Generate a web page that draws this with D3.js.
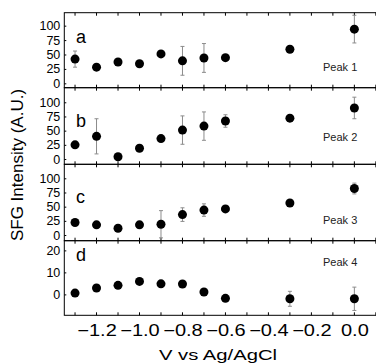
<!DOCTYPE html>
<html>
<head>
<meta charset="utf-8">
<script src="https://cdn.jsdelivr.net/npm/d3@7"></script>
<style>
  body { margin: 0; background: #fff; }
  svg { display: block; font-family: Arial, "Liberation Sans", sans-serif; }
</style>
</head>
<body>
<svg id="chart"></svg>
<script>
// Data
const voltages = [-1.3, -1.2, -1.1, -1.0, -0.9, -0.8, -0.7, -0.6, -0.3, 0.0];

const peak1 = [42, 28, 37, 34, 51, 39, 44, 44.5, 59, 94];
const peak1Err = [14, 0, 0, 0, 0, 25, 25, 0, 0, 24];

const peak2 = [25, 40, 4, 19, 36, 51, 58, 67, 72, 90];
const peak2Err = [0, 31, 0, 0, 0, 25, 25, 11, 4, 19];

const peak3 = [22, 18, 12, 18, 19, 36, 44, 46, 56.5, 82];
const peak3Err = [0, 0, 0, 0, 24, 12, 11, 0, 0, 9.5];

const peak4 = [0.6, 2.9, 4.1, 5.9, 4.8, 4.7, 1.1, -1.8, -2, -2];
const peak4Err = [0, 0, 0, 0, 1.5, 0, 0, 0, 3.4, 5.3];

const panelLetters = ['a', 'b', 'c', 'd'];
const peakNames = ['Peak 1', 'Peak 2', 'Peak 3', 'Peak 4'];
const yTicks = [[0, 25, 50, 75, 100], [0, 25, 50, 75, 100], [0, 25, 50, 75, 100], [0, 10, 20]];
const xTickLabels = [-1.2, -1.0, -0.8, -0.6, -0.4, -0.2, 0.0];

const WIDTH = 376;
const HEIGHT = 364;

// Panel layout (pixels) and y domains
const panels = [
    { top: 12.7, bottom: 87.7, domain: [-7.6, 122.5], letterAt: 70, peakAt: 21, values: peak1, errs: peak1Err },
    { top: 87.7, bottom: 164.3, domain: [-9.3, 125.7], letterAt: 56, peakAt: 32, values: peak2, errs: peak2Err },
    { top: 164.3, bottom: 240.7, domain: [-10, 124.7], letterAt: 56, peakAt: 19, values: peak3, errs: peak3Err },
    { top: 240.7, bottom: 315.3, domain: [-9.5, 24.4], letterAt: 15, peakAt: 13, values: peak4, errs: peak4Err }
];

const left = 64.3;

let svg = d3.select('#chart')
    .attr('width', WIDTH)
    .attr('height', HEIGHT);

let xScale = d3.scaleLinear()
    .domain([-1.35, 0.11])
    .range([left, 378]);

const minorTicks = d3.range(-13, 2).map(d => d / 10);

panels.forEach((p, k) => {
    let yScale = d3.scaleLinear()
        .domain(p.domain)
        .range([p.bottom, p.top]);

    let g = svg.append('g').attr('class', 'panel');

    // frame
    g.append('rect')
        .attr('x', left)
        .attr('y', p.top)
        .attr('width', 400)
        .attr('height', p.bottom - p.top)
        .attr('fill', 'none')
        .attr('stroke', '#000')
        .attr('stroke-width', 1);

    // x ticks on top and bottom, pointing inward
    g.selectAll('.tick-top')
        .data(minorTicks)
        .enter().append('line')
        .attr('x1', d => xScale(d)).attr('x2', d => xScale(d))
        .attr('y1', p.top).attr('y2', p.top + 3)
        .attr('stroke', '#000');
    g.selectAll('.tick-bot')
        .data(minorTicks)
        .enter().append('line')
        .attr('x1', d => xScale(d)).attr('x2', d => xScale(d))
        .attr('y1', p.bottom).attr('y2', p.bottom - 3)
        .attr('stroke', '#000');

    // y axis
    let yAxis = d3.axisLeft(yScale)
        .tickValues(yTicks[k])
        .tickSizeInner(-2)
        .tickSizeOuter(0)
        .tickPadding(4);
    let ya = g.append('g')
        .attr('transform', `translate(${left}, 0)`)
        .call(yAxis);
    ya.select('.domain').remove();
    ya.selectAll('text')
        .style('font-size', '12.5px')
        .attr('fill', '#000');

    // error bars
    let pts = voltages.map((v, i) => ({ v: v, y: p.values[i], e: p.errs[i] }));
    let eb = g.selectAll('.err')
        .data(pts.filter(d => d.e > 0))
        .enter().append('g')
        .attr('stroke', '#8c8c8c')
        .attr('stroke-width', 1);
    eb.append('line')
        .attr('x1', d => xScale(d.v)).attr('x2', d => xScale(d.v))
        .attr('y1', d => yScale(d.y - d.e)).attr('y2', d => yScale(d.y + d.e));
    eb.append('line')
        .attr('x1', d => xScale(d.v) - 2).attr('x2', d => xScale(d.v) + 2)
        .attr('y1', d => yScale(d.y + d.e)).attr('y2', d => yScale(d.y + d.e));
    eb.append('line')
        .attr('x1', d => xScale(d.v) - 2).attr('x2', d => xScale(d.v) + 2)
        .attr('y1', d => yScale(d.y - d.e)).attr('y2', d => yScale(d.y - d.e));

    // points
    g.selectAll('.pt')
        .data(pts)
        .enter().append('circle')
        .attr('cx', d => xScale(d.v))
        .attr('cy', d => yScale(d.y))
        .attr('r', 4.5)
        .attr('fill', '#000');

    // panel letter
    g.append('text')
        .attr('x', 76)
        .attr('y', yScale(p.letterAt))
        .style('font-size', '18px')
        .text(panelLetters[k]);

    // peak label
    g.append('text')
        .attr('x', 323)
        .attr('y', yScale(p.peakAt))
        .style('font-size', '11px')
        .attr('fill', '#222')
        .text(peakNames[k]);
});

// x tick labels under the bottom panel
let xAxis = d3.axisBottom(xScale)
    .tickValues(xTickLabels)
    .tickSize(0)
    .tickPadding(9)
    .tickFormat(d3.format('.1f'));
let xa = svg.append('g')
    .attr('transform', `translate(0, ${panels[3].bottom})`)
    .call(xAxis);
xa.select('.domain').remove();
xa.selectAll('text')
    .style('font-size', '16px')
    .attr('fill', '#000')
    .attr('transform', 'scale(1.25, 1)');

// axis titles
svg.append('text')
    .attr('transform', `translate(218, 360) scale(1.35, 1)`)
    .attr('text-anchor', 'middle')
    .style('font-size', '15px')
    .text('V vs Ag/AgCl');

svg.append('text')
    .attr('transform', 'translate(23, 165) rotate(-90)')
    .attr('text-anchor', 'middle')
    .style('font-size', '17px')
    .text('SFG Intensity (A.U.)');
</script>
</body>
</html>
